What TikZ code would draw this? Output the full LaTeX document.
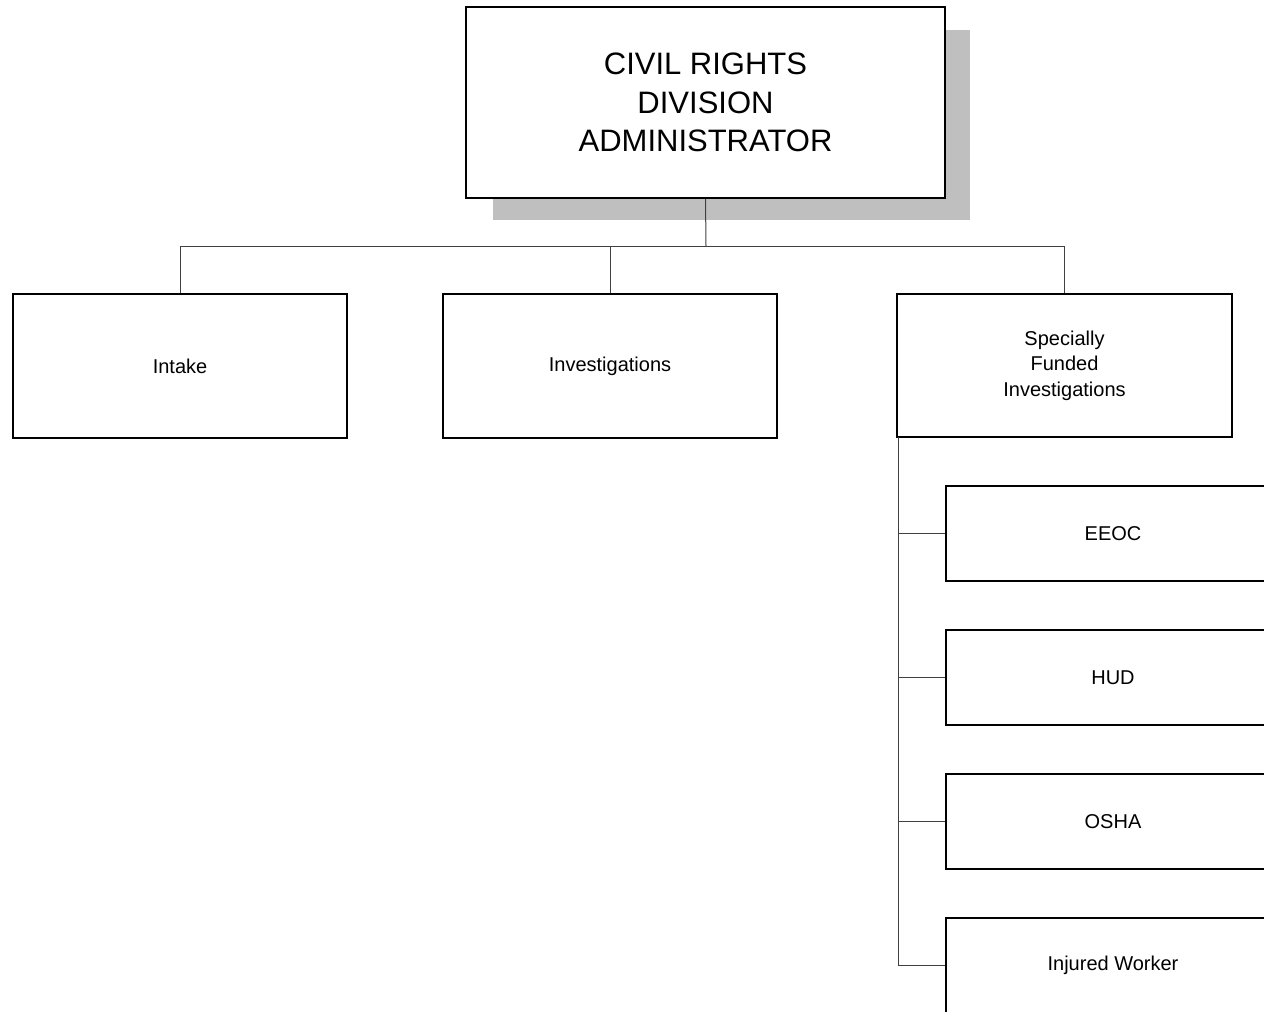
\documentclass[tikz,border=0pt]{standalone}
\usepackage{fontspec}
\setmainfont{Liberation Sans}
\begin{document}
\begin{tikzpicture}[x=1pt,y=-1pt,
  unit/.style={draw=black,line width=1.8pt,fill=white,rectangle,inner sep=0pt,
    align=center,font=\fontsize{20}{25.5}\selectfont},
  link/.style={draw=black!75,line width=1pt}]
\useasboundingbox (0,0) rectangle (1264,1012);
\clip (0,0) rectangle (1264,1012);
% drop shadow behind the head box
\fill[black!25] (493,30) rectangle (970,220);
\node[unit,minimum width=479pt,minimum height=191pt,
  font=\fontsize{31}{38.5}\selectfont] (head) at (705.5,102.5)
  {CIVIL RIGHTS\\DIVISION\\ADMINISTRATOR};
% second level
\node[unit,minimum width=334pt,minimum height=144pt] (intake) at (180,366) {Intake};
\node[unit,minimum width=334pt,minimum height=144pt] (invest) at (610,366) {Investigations};
\node[unit,minimum width=335pt,minimum height=143pt] (sfi) at (1064.5,365.5)
  {Specially\\Funded\\Investigations};
% third level
\node[unit,minimum width=334pt,minimum height=95pt] (eeoc) at (1113,533.5) {EEOC};
\node[unit,minimum width=334pt,minimum height=95pt] (hud) at (1113,677.5) {HUD};
\node[unit,minimum width=334pt,minimum height=95pt] (osha) at (1113,821.5) {OSHA};
\node[unit,minimum width=334pt,minimum height=95pt] (inj) at (1113,965.5) {Injured Worker};
% connectors
\coordinate (bus) at (706,246);
\coordinate (lbus) at (898,437);
\draw[link] (head.south) -- (bus);
\draw[link] (intake.north) |- (sfi.north |- bus) -- (sfi.north);
\draw[link] (invest.north) -- (invest.north |- bus);
\draw[link] (lbus) |- (inj.west);
\draw[link] (eeoc.west) -- (eeoc.west -| lbus);
\draw[link] (hud.west) -- (hud.west -| lbus);
\draw[link] (osha.west) -- (osha.west -| lbus);
\end{tikzpicture}
\end{document}
